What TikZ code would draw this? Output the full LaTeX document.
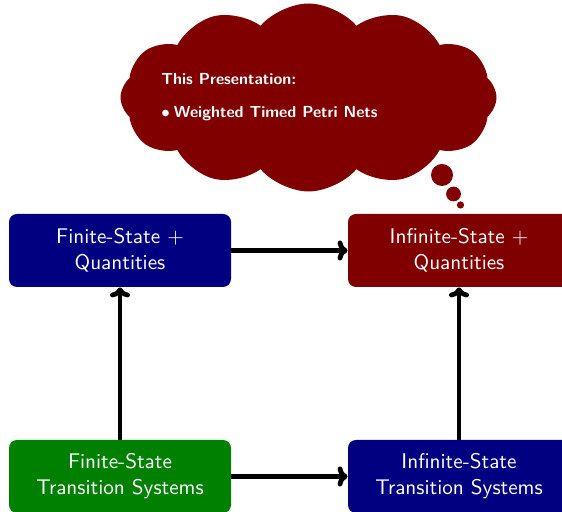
\documentclass[tikz,border=0pt]{standalone}
\usetikzlibrary{shapes.symbols,arrows.meta}
\definecolor{navyb}{RGB}{0,0,128}
\definecolor{maroonr}{RGB}{128,0,0}
\definecolor{greenb}{RGB}{0,128,0}
\begin{document}
\begin{tikzpicture}[x=1pt,y=1pt,
  boxnode/.style={rounded corners=4pt, minimum width=111pt, minimum height=36.5pt, inner sep=0pt,
    text=white, align=center, font=\sffamily\fontsize{10.6}{13}\selectfont},
  conn/.style={line width=2.4pt, -{To[length=5pt,width=10pt]}},
  bubble/.style={circle, fill=maroonr, inner sep=0pt}]
\useasboundingbox (0,0) rectangle (281,256);
\node[boxnode, fill=navyb] (fq) at (60,130.75) {Finite-State +\\Quantities};
\node[boxnode, fill=maroonr] (iq) at (229.5,130.75) {Infinite-State +\\Quantities};
\node[boxnode, fill=greenb] (ft) at (60,17.75) {Finite-State\\Transition Systems};
\node[boxnode, fill=navyb] (it) at (229.5,17.75) {Infinite-State\\Transition Systems};
\draw[conn] (fq) -- (iq);
\draw[conn] (ft) -- (it);
\draw[conn] (ft) -- (fq);
\draw[conn] (it) -- (iq);
\node[bubble, minimum size=11pt] (b1) at (221,168.5) {};
\node[bubble, minimum size=7.4pt] (b2) at (226.75,159) {};
\node[bubble, minimum size=3.6pt] (b3) at (230.25,153.5) {};
\node[cloud, fill=maroonr, cloud puffs=12, cloud puff arc=100, aspect=2, minimum width=188pt, minimum height=94pt,
  inner sep=0pt] (cl) at (154.25,207.25) {};
\node[anchor=west, inner sep=0pt, text=white, align=left,
  font=\sffamily\bfseries\fontsize{8}{10}\selectfont] (txt) at (80.5,207.5)
  {This Presentation:\\[6.5pt]$\bullet$\hspace{2pt}Weighted Timed Petri Nets};
\end{tikzpicture}
\end{document}
